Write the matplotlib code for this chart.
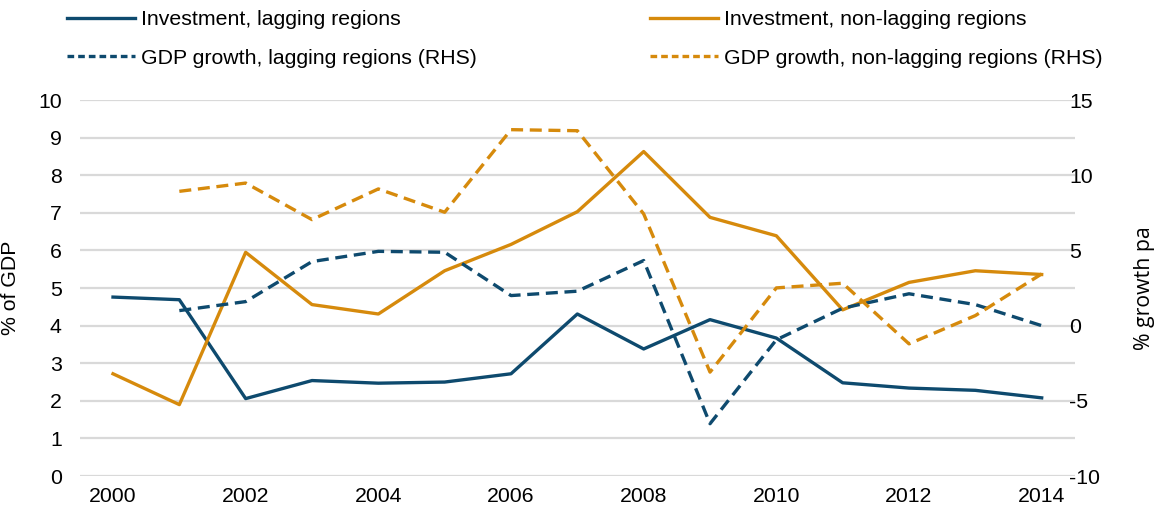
import matplotlib
matplotlib.use('Agg')
from matplotlib import pyplot as plt
from matplotlib.lines import Line2D

plt.rcParams['font.family'] = ['Liberation Sans', 'DejaVu Sans']
plt.rcParams['axes.unicode_minus'] = False

years = list(range(2000, 2015))
gdp_years = list(range(2001, 2015))

inv_lagging = [4.76, 4.69, 2.06, 2.54, 2.47, 2.50, 2.72, 4.31, 3.38, 4.16, 3.67, 2.48, 2.34, 2.28, 2.08]
inv_nonlagging = [2.72, 1.90, 5.95, 4.56, 4.31, 5.46, 6.16, 7.03, 8.63, 6.88, 6.39, 4.42, 5.15, 5.46, 5.36]
gdp_lagging = [1.0, 1.6, 4.26, 4.94, 4.88, 2.0, 2.29, 4.33, -6.52, -0.94, 1.16, 2.12, 1.40, 0.0]
gdp_nonlagging = [8.93, 9.48, 7.05, 9.09, 7.54, 13.03, 12.96, 7.43, -3.09, 2.51, 2.82, -1.21, 0.67, 3.44]

navy = '#0E4A6E'
orange = '#D68A0C'
lw = 2.4
dash = (3.6, 2.0)
fs = 15.3

fig = plt.figure(figsize=(11.57, 5.13), dpi=100)
ax = fig.add_axes([0.069, 0.072, 0.860, 0.733])
ax2 = ax.twinx()

ax.plot(years, inv_lagging, color=navy, lw=lw, zorder=3)
ax.plot(years, inv_nonlagging, color=orange, lw=lw, zorder=3)
ax2.plot(gdp_years, gdp_lagging, color=navy, lw=lw, dashes=dash)
ax2.plot(gdp_years, gdp_nonlagging, color=orange, lw=lw, dashes=dash)

ax.set_xlim(1999.5, 2014.5)
ax.set_ylim(0, 10)
ax2.set_ylim(-10, 15)
ax.set_yticks(range(0, 11))
ax2.set_yticks(range(-10, 16, 5))
ax.set_xticks(range(2000, 2015, 2))
ax.grid(axis='y', color='#D9D9D9', lw=1.6)
ax.set_axisbelow(True)

for a in (ax, ax2):
    for s in a.spines.values():
        s.set_visible(False)
    a.tick_params(length=0, labelsize=fs, colors='black')
ax.tick_params(axis='y', pad=13)
ax.tick_params(axis='x', pad=8)
ax2.tick_params(axis='y', pad=-4)

ax.set_ylabel('% of GDP', fontsize=fs)
ax.yaxis.set_label_coords(-0.060, 0.5)
ax2.set_ylabel('% growth pa', fontsize=fs, family=['Open Sans', 'DejaVu Sans'])
ax2.yaxis.set_label_coords(1.059, 0.5)

h1 = [Line2D([], [], color=navy, lw=lw),
      Line2D([], [], color=navy, lw=lw, dashes=(2.0, 1.2))]
h2 = [Line2D([], [], color=orange, lw=lw),
      Line2D([], [], color=orange, lw=lw, dashes=(2.0, 1.2))]
fig.legend(h1, ['Investment, lagging regions', 'GDP growth, lagging regions (RHS)'],
           loc='upper left', bbox_to_anchor=(0.041, 1.017), frameon=False, fontsize=fs,
           handlelength=3.2, handletextpad=0.3, labelspacing=0.9)
fig.legend(h2, ['Investment, non-lagging regions', 'GDP growth, non-lagging regions (RHS)'],
           loc='upper left', bbox_to_anchor=(0.545, 1.017), frameon=False, fontsize=fs,
           handlelength=3.2, handletextpad=0.3, labelspacing=0.9)

fig.savefig('out.png', dpi=100)
